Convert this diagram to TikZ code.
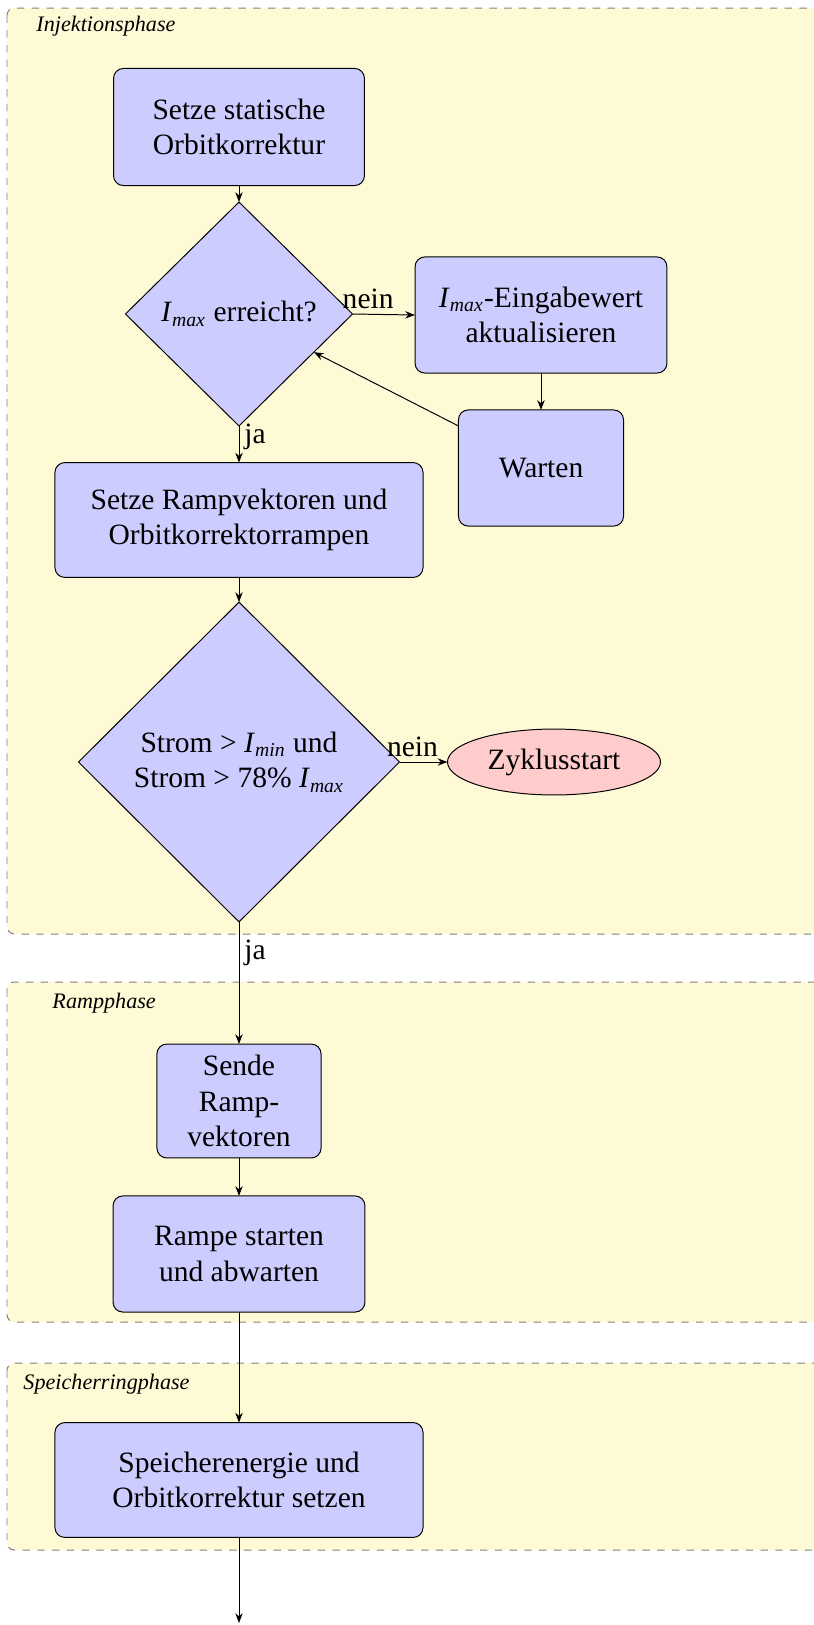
\documentclass[tikz,border=0pt]{standalone}
\usepackage{fontspec}
\setmainfont{Liberation Serif}
\usetikzlibrary{shapes.geometric,arrows.meta}
\definecolor{phasebg}{RGB}{255,250,214}
\newcommand{\Imax}{\textit{I}\textsubscript{\textit{max}}}
\newcommand{\Imin}{\textit{I}\textsubscript{\textit{min}}}
\tikzset{
  mainfont/.style={font=\fontsize{12}{14.5}\selectfont},
  block/.style={draw, fill=blue!20, rounded corners=4pt, align=center, inner sep=0pt, outer sep=0pt, mainfont},
  decision/.style={draw, fill=blue!20, diamond, aspect=1, align=center, inner sep=0pt, outer sep=0pt, mainfont},
  term/.style={draw, fill=red!20, ellipse, align=center, inner sep=0pt, outer sep=0pt, mainfont},
  phase/.style={draw=gray, dashed, fill=phasebg, rounded corners=3pt},
  phaselabel/.style={font=\fontsize{9}{11}\selectfont\itshape, anchor=west, inner sep=0pt},
  conn/.style={-{Stealth[length=4pt,width=3pt]}},
  lbl/.style={mainfont, inner sep=2pt}
}
\begin{document}
\begin{tikzpicture}[x=0.4065pt,y=-0.4065pt]
\useasboundingbox (0,0) rectangle (814,1625);
\clip (0,0) rectangle (814,1625);
% phases
\path[phase] (7,8) rectangle (840,934);
\path[phase] (7,982) rectangle (840,1322);
\path[phase] (7,1363) rectangle (840,1550);
\node[phaselabel] (linj) at (36,26) {Injektionsphase};
\node[phaselabel] (lramp) at (52,1003) {Rampphase};
\node[phaselabel] (lspei) at (23,1384) {Speicherringphase};
% nodes
\node[block, minimum width=102pt, minimum height=47.6pt] (b1) at (239,127) {Setze statische\\Orbitkorrektur};
\node[decision, minimum width=92.3pt, minimum height=91pt] (d1) at (239,314) {\Imax{} erreicht?};
\node[block, minimum width=102.4pt, minimum height=47.2pt] (upd) at (541,315) {\Imax-Eingabewert\\aktualisieren};
\node[block, minimum width=67.1pt, minimum height=47.2pt] (wait) at (541,468) {Warten};
\node[block, minimum width=149.6pt, minimum height=46.7pt] (b2) at (239,520) {Setze Rampvektoren und\\Orbitkorrektorrampen};
\node[decision, minimum width=130.5pt, minimum height=130pt] (d2) at (239,762) {Strom > \Imin{} und\\Strom > 78\% \Imax};
\node[term, minimum width=86.6pt, minimum height=26.8pt] (zyk) at (554,762) {Zyklusstart};
\node[block, minimum width=66.7pt, minimum height=46.3pt] (send) at (239,1101) {Sende\\Ramp-\\vektoren};
\node[block, minimum width=102.4pt, minimum height=47.2pt] (ramp) at (239,1254) {Rampe starten\\und abwarten};
\node[block, minimum width=149.6pt, minimum height=46.7pt] (spei) at (239,1480) {Speicherenergie und\\Orbitkorrektur setzen};
\coordinate (end) at (239,1623);
% connectors
\draw[conn] (b1) -- (d1);
\draw[conn] (d1.east) -- node[lbl, above, pos=0.25] {nein} (upd.west);
\draw[conn] (upd) -- (wait);
\draw[conn] (wait) -- (d1);
\draw[conn] (d1.south) -- node[lbl, right, pos=0.3] {ja} (b2.north);
\draw[conn] (b2) -- (d2);
\draw[conn] (d2.east) -- node[lbl, above, pos=0.27] {nein} (zyk.west);
\draw[conn] (d2.south) -- node[lbl, right, pos=0.25] {ja} (send.north);
\draw[conn] (send) -- (ramp);
\draw[conn] (ramp) -- (spei);
\draw[conn] (spei) -- (end);
\end{tikzpicture}
\end{document}
